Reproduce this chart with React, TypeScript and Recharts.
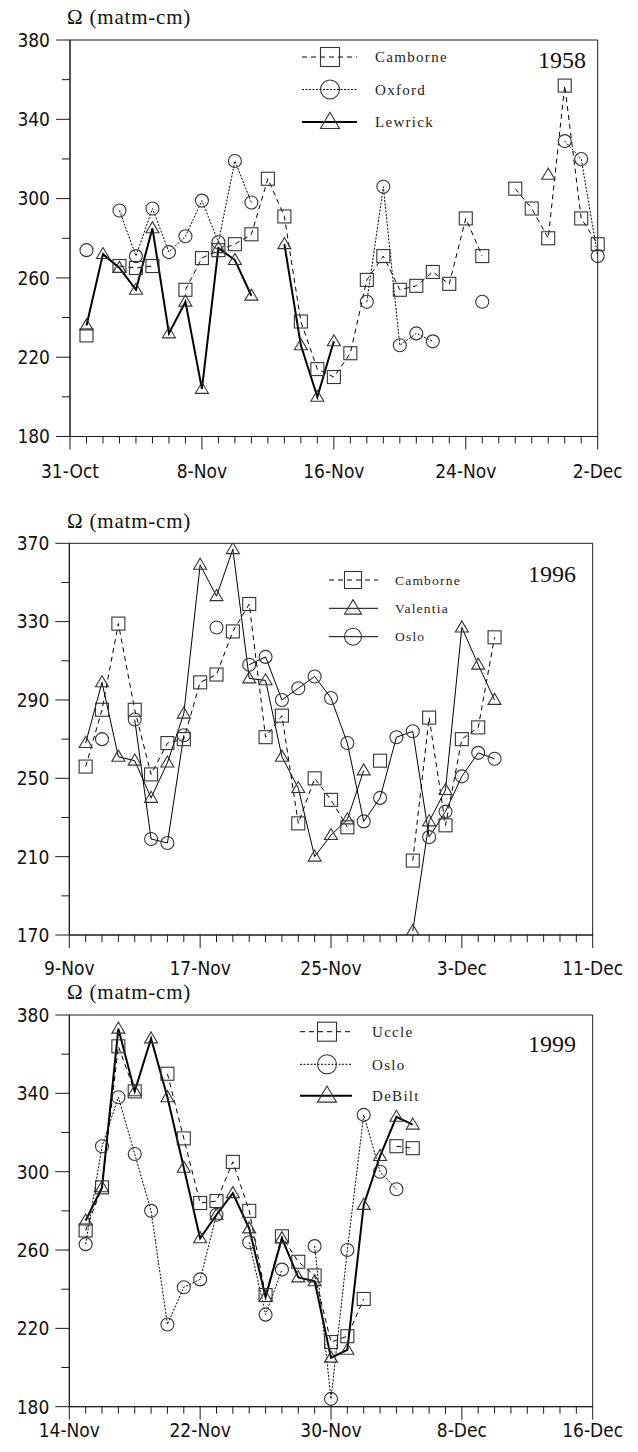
import React from 'react';
import { LineChart, Line, XAxis, YAxis, ReferenceArea } from 'recharts';

// day index 0..32 from the first date on each axis
const days = Array.from({ length: 33 }, (_, i) => i);
const n = null;

// ---- 1958 ----
const xLabels58 = ['31-Oct', '8-Nov', '16-Nov', '24-Nov', '2-Dec'];
const yTicks58 = [180, 200, 220, 240, 260, 280, 300, 320, 340, 360, 380];
const camborne58 = [n, 231, n, 266, 265, 266, n, 254, 270, 274, 277, 282, 310, 291, 238, 214, 210, 222, 259, 271, 254, 256, 263, 257, 290, 271, n, 305, 295, 280, 357, 290, 277];
const oxford58 = [n, 274, n, 294, 271, 295, 273, 281, 299, 278, 319, 298, n, n, n, n, n, n, 248, 306, 226, 232, 228, n, n, 248, n, n, n, n, 329, 320, 271];
const lewrick58 = [n, 236, 272, 265, 254, 285, 232, 248, 204, 275, 269, 251, n, 277, 226, 200, 228, n, n, n, n, n, n, n, n, n, n, n, n, 312, n, n, n];

// ---- 1996 ----
const xLabels96 = ['9-Nov', '17-Nov', '25-Nov', '3-Dec', '11-Dec'];
const yTicks96 = [170, 190, 210, 230, 250, 270, 290, 310, 330, 350, 370];
const camborne96 = [n, 256, 285, 329, 285, 252, 268, 270, 299, 303, 325, 339, 271, 282, 227, 250, 239, 225, n, 259, n, 208, 281, 226, 270, 276, 322, n, n, n, n, n, n];
const valentia96 = [n, 268, 299, 261, 259, 240, 258, 283, 359, 343, 367, 301, 300, 261, 245, 210, 221, 229, 254, n, n, 172, 228, 244, 327, 308, 290, n, n, n, n, n, n];
const oslo96 = [n, n, 270, n, 280, 219, 217, 272, n, 327, n, 308, 312, 290, 296, 302, 291, 268, 228, 240, 271, 274, 220, 233, 251, 263, 260, n, n, n, n, n, n];

// ---- 1999 ----
const xLabels99 = ['14-Nov', '22-Nov', '30-Nov', '8-Dec', '16-Dec'];
const yTicks99 = [180, 200, 220, 240, 260, 280, 300, 320, 340, 360, 380];
const uccle99 = [n, 270, 292, 364, 341, n, 350, 317, 284, 285, 305, 280, 237, 267, 254, 247, 213, 216, 235, n, 313, 312, n, n, n, n, n, n, n, n, n, n, n];
const oslo99 = [n, 263, 313, 338, 309, 280, 222, 241, 245, 278, n, 264, 227, 250, n, 262, 184, 260, 329, 300, 291, n, n, n, n, n, n, n, n, n, n, n, n];
const debilt99 = [n, 275, 292, 373, 341, 368, 338, 302, 266, 278, 289, 271, 236, 266, 246, 244, 205, 209, 283, 308, 328, 324, n, n, n, n, n, n, n, n, n, n, n];

const TICK_FONT = "'DejaVu Sans Condensed', 'DejaVu Sans', sans-serif";
const SERIF = "'Liberation Serif', 'Times New Roman', Times, serif";
const INK = '#1a1a1a';

type Shape = 'square' | 'circle' | 'triangle';
type Series = { key: string; name: string; values: (number | null)[]; shape: Shape; dash?: string; width: number };

function Marker({ shape, cx, cy, size }: { shape: Shape; cx: number; cy: number; size: number }) {
  const h = size / 2;
  if (shape === 'square')
    return <rect x={cx - h} y={cy - h} width={size} height={size} fill="none" stroke="#333" strokeWidth={1.1} />;
  if (shape === 'circle')
    return <circle cx={cx} cy={cy} r={h} fill="none" stroke="#333" strokeWidth={1.1} />;
  const th = size * 0.85;
  return (
    <polygon
      points={`${cx},${cy - th * 0.6} ${cx - h},${cy + th * 0.4} ${cx + h},${cy + th * 0.4}`}
      fill="none" stroke="#333" strokeWidth={1.1}
    />
  );
}

const makeDot = (shape: Shape) => (p: any) => {
  if (p.cx == null || p.cy == null || p.value == null) return <g key={`e${p.index}`} />;
  return <Marker key={`d${p.index}`} shape={shape} cx={p.cx} cy={p.cy} size={13} />;
};

type PanelCfg = {
  top: number; height: number;
  plotLeft: number; plotRight: number; plotTop: number; plotBottom: number;
  xLabels: string[]; yTicks: number[]; series: Series[];
  year: string; yearX: number; yearY: number;
  titleY: number; labelOffset: number;
  legend: { x1: number; x2: number; mx: number; tx: number; rows: number[]; font: number; spacing: number; msize: number };
};

function Panel({ cfg }: { cfg: PanelCfg }) {
  const data = days.map(d => {
    const row: Record<string, number | null> = { day: d };
    cfg.series.forEach(s => { row[s.key] = s.values[d] ?? null; });
    return row;
  });
  const yMin = cfg.yTicks[0];
  const yMax = cfg.yTicks[cfg.yTicks.length - 1];

  const xTick = (p: any) => {
    const v = p.payload.value;
    const major = v % 8 === 0;
    return (
      <g key={`x${v}`}>
        <line x1={p.x} x2={p.x} y1={p.y} y2={p.y + (major ? 13 : 7)} stroke={INK} strokeWidth={1} />
        {major && (
          <text x={p.x} y={p.y + cfg.labelOffset} textAnchor="middle" fontFamily={TICK_FONT} fontSize={19} fill="#111">
            {cfg.xLabels[v / 8]}
          </text>
        )}
      </g>
    );
  };

  const yTick = (p: any) => {
    const v = p.payload.value;
    const major = (v - yMin) % 40 === 0;
    return (
      <g key={`y${v}`}>
        <line x1={p.x - (major ? 14 : 8)} x2={p.x} y1={p.y} y2={p.y} stroke={INK} strokeWidth={1} />
        {major && (
          <text x={p.x - 20} y={p.y} dy="0.36em" textAnchor="end" fontFamily={TICK_FONT} fontSize={19} fill="#111">
            {v}
          </text>
        )}
      </g>
    );
  };

  const lg = cfg.legend;
  const H = cfg.height;
  return (
    <div style={{ position: 'absolute', left: 0, top: cfg.top, width: 638, height: H }}>
      <LineChart
        width={638}
        height={H}
        data={data}
        margin={{ top: cfg.plotTop, right: 638 - cfg.plotRight, bottom: 0, left: 0 }}
      >
        <XAxis
          dataKey="day" type="number" domain={[0, 32]} ticks={days} interval={0}
          tickSize={0} tickMargin={0} tickLine={false} height={H - cfg.plotBottom}
          axisLine={{ stroke: INK }} tick={xTick}
        />
        <YAxis
          type="number" domain={[yMin, yMax]} ticks={cfg.yTicks} interval={0} allowDataOverflow
          tickSize={0} tickMargin={0} tickLine={false} width={cfg.plotLeft}
          axisLine={{ stroke: INK }} tick={yTick}
        />
        <ReferenceArea x1={0} x2={32} y1={yMin} y2={yMax} fill="none" stroke={INK} strokeWidth={1} />
        {cfg.series.map(s => (
          <Line
            key={s.key}
            dataKey={s.key}
            type="linear"
            stroke="#000"
            strokeWidth={s.width}
            strokeDasharray={s.dash}
            dot={makeDot(s.shape)}
            activeDot={false}
            connectNulls={false}
            isAnimationActive={false}
          />
        ))}
      </LineChart>
      <svg width={638} height={H} style={{ position: 'absolute', left: 0, top: 0, pointerEvents: 'none' }}>
        <text x={67} y={cfg.titleY} fontFamily={SERIF} fontSize={21} letterSpacing={0.8} fill="#111">
          Ω (matm-cm)
        </text>
        <text x={cfg.yearX} y={cfg.yearY} textAnchor="end" fontFamily={SERIF} fontSize={24} fill="#111">
          {cfg.year}
        </text>
        {cfg.series.map((s, i) => (
          <g key={s.key}>
            <line x1={lg.x1} x2={lg.x2} y1={lg.rows[i]} y2={lg.rows[i]} stroke="#000" strokeWidth={s.width} strokeDasharray={s.dash} />
            <Marker shape={s.shape} cx={lg.mx} cy={lg.rows[i]} size={lg.msize} />
            <text x={lg.tx} y={lg.rows[i]} dy="0.35em" fontFamily={SERIF} fontSize={lg.font} letterSpacing={lg.spacing} fill="#222">
              {s.name}
            </text>
          </g>
        ))}
      </svg>
    </div>
  );
}

const DASH = '5 4';
const DOT = '2 1.5';

const panels: PanelCfg[] = [
  {
    top: 0, height: 490, plotLeft: 70, plotRight: 597.7, plotTop: 40, plotBottom: 436.5,
    xLabels: xLabels58, yTicks: yTicks58,
    series: [
      { key: 'camborne', name: 'Camborne', values: camborne58, shape: 'square', dash: DASH, width: 1 },
      { key: 'oxford', name: 'Oxford', values: oxford58, shape: 'circle', dash: DOT, width: 1 },
      { key: 'lewrick', name: 'Lewrick', values: lewrick58, shape: 'triangle', width: 2 },
    ],
    year: '1958', yearX: 586, yearY: 68, titleY: 24, labelOffset: 41,
    legend: { x1: 302, x2: 357, mx: 330, tx: 375, rows: [57, 89.5, 122], font: 15, spacing: 1.3, msize: 19 },
  },
  {
    top: 480, height: 508, plotLeft: 69.3, plotRight: 592.7, plotTop: 63.3, plotBottom: 455,
    xLabels: xLabels96, yTicks: yTicks96,
    series: [
      { key: 'camborne', name: 'Camborne', values: camborne96, shape: 'square', dash: DASH, width: 1 },
      { key: 'valentia', name: 'Valentia', values: valentia96, shape: 'triangle', width: 1 },
      { key: 'oslo', name: 'Oslo', values: oslo96, shape: 'circle', width: 1 },
    ],
    year: '1996', yearX: 576, yearY: 101.7, titleY: 48, labelOffset: 40,
    legend: { x1: 329, x2: 378, mx: 353, tx: 395, rows: [100, 128.3, 156.7], font: 13.5, spacing: 1.2, msize: 17 },
  },
  {
    top: 975, height: 477, plotLeft: 69.3, plotRight: 592.7, plotTop: 40, plotBottom: 431.7,
    xLabels: xLabels99, yTicks: yTicks99,
    series: [
      { key: 'uccle', name: 'Uccle', values: uccle99, shape: 'square', dash: DASH, width: 1 },
      { key: 'oslo', name: 'Oslo', values: oslo99, shape: 'circle', dash: DOT, width: 1 },
      { key: 'debilt', name: 'DeBilt', values: debilt99, shape: 'triangle', width: 2 },
    ],
    year: '1999', yearX: 576, yearY: 77.3, titleY: 24, labelOffset: 30,
    legend: { x1: 300, x2: 352, mx: 327, tx: 372, rows: [56.7, 89.3, 120.7], font: 15, spacing: 1.3, msize: 19 },
  },
];

export default function App() {
  return (
    <div style={{ position: 'absolute', left: 0, top: 0, width: 638, height: 1452, background: '#fff' }}>
      {panels.map((p, i) => <Panel key={i} cfg={p} />)}
    </div>
  );
}
